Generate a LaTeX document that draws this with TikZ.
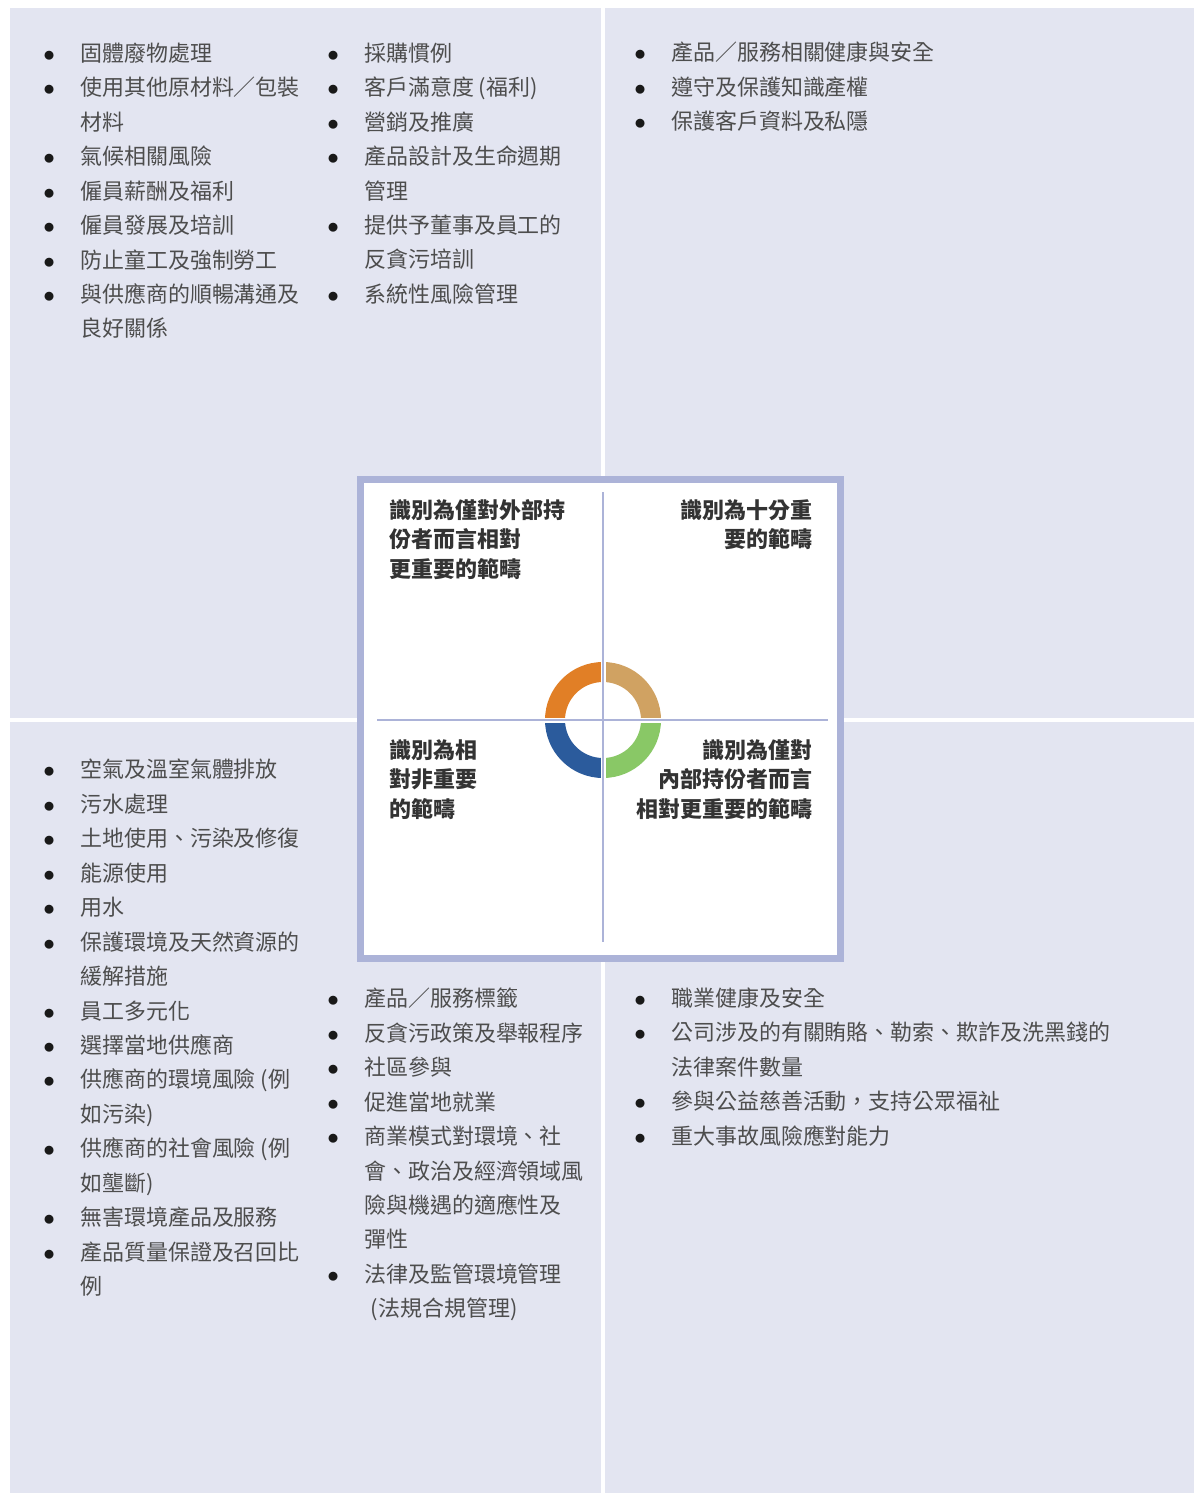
\documentclass[tikz,border=0pt]{standalone}
\usepackage{fontspec}
\setmainfont{Noto Sans CJK TC}
\usepackage{tikz}

\definecolor{panel}{RGB}{227,229,241}
\definecolor{framec}{RGB}{172,179,216}
\definecolor{txtgray}{RGB}{77,77,77}
\definecolor{segorange}{RGB}{225,127,38}
\definecolor{segtan}{RGB}{208,162,98}
\definecolor{seggreen}{RGB}{137,200,102}
\definecolor{segblue}{RGB}{43,91,156}

\newcommand{\blt}{\makebox[21pt][l]{\textcolor{black!90}{\scalebox{1.1}{$\bullet$}}}}
\newcommand{\ind}{\hspace*{21pt}}

\begin{document}
\begin{tikzpicture}[x=0.02cm, y=-0.02cm,
    % multi-line nodes: base anchor sits on the last line
    itemlist/.style={anchor=base west, align=left, inner sep=0, text=txtgray,
      font=\fontsize{12.5}{19.6}\selectfont},
    headtxt/.style={align=left, inner sep=0, text=black!80,
      font=\fontsize{12.5}{16.7}\selectfont\bfseries},
    axisline/.style={draw=framec, line width=2.6*0.02cm}]
  \useasboundingbox (0,0) rectangle (1194,1493);

  % four panels
  \fill[panel] (10,8) rectangle (601,718);
  \fill[panel] (605,8) rectangle (1194,718);
  \fill[panel] (10,722) rectangle (601,1493);
  \fill[panel] (605,722) rectangle (1194,1493);

  % centre box
  \draw[framec, fill=white, line width=7*0.02cm] (360.5,479.5) rectangle (840.5,958.5);

  % ring
  \begin{scope}[shift={(603,720)}, y=0.02cm]
    \fill[segorange] (90:58) arc (90:180:58) -- (180:38) arc (180:90:38) -- cycle;
    \fill[segtan] (0:58) arc (0:90:58) -- (90:38) arc (90:0:38) -- cycle;
    \fill[seggreen] (270:58) arc (270:360:58) -- (0:38) arc (360:270:38) -- cycle;
    \fill[segblue] (180:58) arc (180:270:58) -- (270:38) arc (270:180:38) -- cycle;
  \end{scope}

  \coordinate (vtop) at (603,492);
  \coordinate (vbot) at (603,942);
  \coordinate (hleft) at (377,720);
  \coordinate (hright) at (828,720);
  \draw[white, line width=5*0.02cm] (603,660) -- (603,780) (543,720) -- (663,720);
  \draw[axisline] (vtop) -- (vbot);
  \draw[axisline] (hleft) -- (hright);

  % quadrant titles
  \node[headtxt, anchor=base west] (extonly) at (389,577.3)
    {識別為僅對外部持\\份者而言相對\\更重要的範疇};
  \node[headtxt, anchor=base east, align=right] (veryimp) at (813,547.9)
    {識別為十分重\\要的範疇};
  \node[headtxt, anchor=base west] (lessimp) at (389,817.3)
    {識別為相\\對非重要\\的範疇};
  \node[headtxt, anchor=base east, align=right] (intonly) at (813,817.3)
    {識別為僅對\\內部持份者而言\\相對更重要的範疇};

  % top lists
  \node[itemlist] (topa) at (43,337)
    {\blt 固體廢物處理\\
     \blt 使用其他原材料／包裝\\
     \ind 材料\\
     \blt 氣候相關風險\\
     \blt 僱員薪酬及福利\\
     \blt 僱員發展及培訓\\
     \blt 防止童工及強制勞工\\
     \blt 與供應商的順暢溝通及\\
     \ind 良好關係};
  \node[itemlist] (topb) at (327,302.4)
    {\blt 採購慣例\\
     \blt 客戶滿意度 (福利)\\
     \blt 營銷及推廣\\
     \blt 產品設計及生命週期\\
     \ind 管理\\
     \blt 提供予董事及員工的\\
     \ind 反貪污培訓\\
     \blt 系統性風險管理};
  \node[itemlist] (topc) at (634,129.5)
    {\blt 產品／服務相關健康與安全\\
     \blt 遵守及保護知識產權\\
     \blt 保護客戶資料及私隱};

  % bottom lists
  \node[itemlist] (bota) at (43,1294.5)
    {\blt 空氣及溫室氣體排放\\
     \blt 污水處理\\
     \blt 土地使用、污染及修復\\
     \blt 能源使用\\
     \blt 用水\\
     \blt 保護環境及天然資源的\\
     \ind 緩解措施\\
     \blt 員工多元化\\
     \blt 選擇當地供應商\\
     \blt 供應商的環境風險 (例\\
     \ind 如污染)\\
     \blt 供應商的社會風險 (例\\
     \ind 如壟斷)\\
     \blt 無害環境產品及服務\\
     \blt 產品質量保證及召回比\\
     \ind 例};
  \node[itemlist] (botb) at (327,1316.8)
    {\blt 產品／服務標籤\\
     \blt 反貪污政策及舉報程序\\
     \blt 社區參與\\
     \blt 促進當地就業\\
     \blt 商業模式對環境、社\\
     \ind 會、政治及經濟領域風\\
     \ind 險與機遇的適應性及\\
     \ind 彈性\\
     \blt 法律及監管環境管理\\
     \ind\hspace{0.3em}(法規合規管理)};
  \node[itemlist] (botc) at (634,1144)
    {\blt 職業健康及安全\\
     \blt 公司涉及的有關賄賂、勒索、欺詐及洗黑錢的\\
     \ind 法律案件數量\\
     \blt 參與公益慈善活動，支持公眾福祉\\
     \blt 重大事故風險應對能力};
\end{tikzpicture}
\end{document}
